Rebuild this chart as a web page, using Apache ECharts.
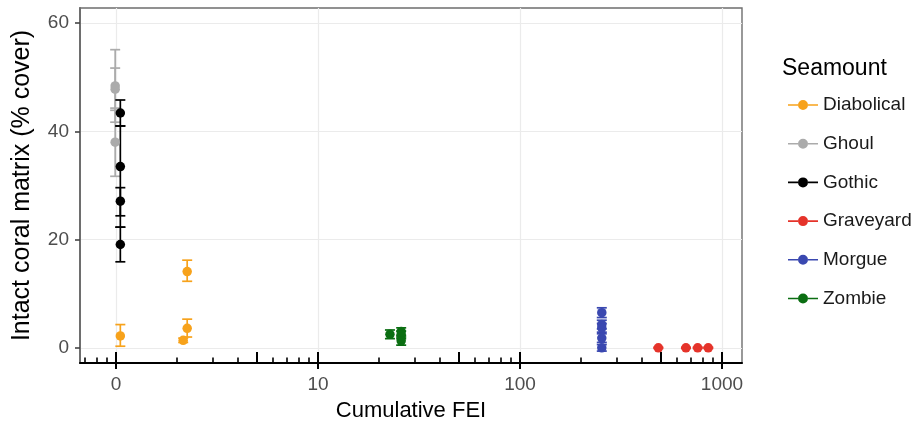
<!DOCTYPE html>
<html>
<head>
<meta charset="utf-8">
<script src="https://cdn.jsdelivr.net/npm/echarts@6/dist/echarts.min.js"></script>
<style>
  html, body { margin: 0; padding: 0; background: #fff; }
  #chart { width: 924px; height: 427px; }
</style>
</head>
<body>
<div id="chart"></div>
<script>
// ---- Data (x = position on the log axis, where axis value 1 is labelled "0") ----
const seamounts = ['Diabolical', 'Ghoul', 'Gothic', 'Graveyard', 'Morgue', 'Zombie'];

const diabolicalX  = [1.05, 2.25, 2.25, 2.15];
const diabolicalY  = [2.2, 14.1, 3.6, 1.4];
const diabolicalLo = [0.3, 12.3, 2.0, 1.0];
const diabolicalHi = [4.3, 16.2, 5.3, 1.8];

const ghoulX  = [0.99, 0.99, 0.99];
const ghoulY  = [48.4, 47.8, 38.0];
const ghoulLo = [41.7, 43.9, 31.7];
const ghoulHi = [55.1, 51.7, 44.3];

const gothicX  = [1.05, 1.05, 1.05, 1.05];
const gothicY  = [43.4, 33.5, 27.1, 19.1];
const gothicLo = [41.0, 22.3, 24.4, 15.9];
const gothicHi = [45.8, 41.0, 29.6, 22.3];

const graveyardX  = [484, 663, 758, 855];
const graveyardY  = [0.0, 0.0, 0.0, 0.0];
const graveyardLo = [-0.1, -0.1, -0.1, -0.1];
const graveyardHi = [0.1, 0.1, 0.1, 0.1];

const morgueX  = [254, 254, 254, 254, 254];
const morgueY  = [6.5, 4.3, 3.7, 1.8, 0.0];
const morgueLo = [5.6, 3.5, 2.9, 1.0, -0.6];
const morgueHi = [7.4, 5.1, 4.5, 2.6, 0.6];

const zombieX  = [22.7, 25.8, 25.8, 25.8];
const zombieY  = [2.5, 3.0, 2.4, 1.3];
const zombieLo = [1.7, 2.3, 1.7, 0.5];
const zombieHi = [3.3, 3.7, 3.1, 2.0];

const xTickLabels = [1, 10, 100, 1000];
const xMidTicks   = [1, 5, 10, 50, 100, 500, 1000];
const xMinorTicks = [0.7, 0.8, 0.9, 2, 3, 4, 6, 7, 8, 9, 20, 30, 40, 60, 70, 80, 90, 200, 300, 400, 600, 700, 800, 900];
const yTickValues = [0, 20, 40, 60];

// ---- Styles ----
const colors = {
  Diabolical: '#F7A21B',
  Ghoul: '#ABABAB',
  Gothic: '#000000',
  Graveyard: '#E5332A',
  Morgue: '#3A48B0',
  Zombie: '#0B6E12'
};
const FONT = '"Liberation Sans", Arial, sans-serif';

const groups = {
  Diabolical: [diabolicalX, diabolicalY, diabolicalLo, diabolicalHi],
  Ghoul: [ghoulX, ghoulY, ghoulLo, ghoulHi],
  Gothic: [gothicX, gothicY, gothicLo, gothicHi],
  Graveyard: [graveyardX, graveyardY, graveyardLo, graveyardHi],
  Morgue: [morgueX, morgueY, morgueLo, morgueHi],
  Zombie: [zombieX, zombieY, zombieLo, zombieHi]
};

const X_MIN = 0.663, X_MAX = 1256;
const Y_MIN = -2.8, Y_MAX = 62.8;

function errRender(color) {
  return function (params, api) {
    const x = api.value(0), lo = api.value(1), hi = api.value(2);
    const a = api.coord([x, lo]);
    const b = api.coord([x, hi]);
    const w = 5;
    const style = { stroke: color, lineWidth: 1.7 };
    return {
      type: 'group',
      children: [
        { type: 'line', shape: { x1: a[0], y1: a[1], x2: b[0], y2: b[1] }, style },
        { type: 'line', shape: { x1: a[0] - w, y1: a[1], x2: a[0] + w, y2: a[1] }, style },
        { type: 'line', shape: { x1: b[0] - w, y1: b[1], x2: b[0] + w, y2: b[1] }, style }
      ]
    };
  };
}

const series = [];
seamounts.forEach(function (name) {
  const g = groups[name];
  series.push({
    type: 'custom',
    name: name,
    xAxisIndex: 0, yAxisIndex: 0,
    itemStyle: { color: colors[name] },
    renderItem: errRender(colors[name]),
    encode: { x: 0, y: [1, 2] },
    data: g[0].map(function (x, i) { return [x, g[2][i], g[3][i]]; }),
    z: 2
  });
});
seamounts.forEach(function (name) {
  const g = groups[name];
  series.push({
    type: 'scatter',
    name: name,
    xAxisIndex: 0, yAxisIndex: 0,
    symbol: 'circle',
    symbolSize: 9.5,
    itemStyle: { color: colors[name], opacity: 1 },
    data: g[0].map(function (x, i) { return [x, g[1][i]]; }),
    z: 3
  });
});

const legendIcon = 'path://M0,4.2 H10 V5.8 H0 Z M20,4.2 H30 V5.8 H20 Z M10,5 A5,5 0 0 0 20,5 A5,5 0 0 0 10,5 Z';

function xLabel(v) {
  const l = Math.log10(v);
  if (Math.abs(l - Math.round(l)) > 1e-6) return '';
  const r = Math.round(v);
  return r === 1 ? '0' : String(r);
}

const baseLogAxis = {
  type: 'log', logBase: 10, min: X_MIN, max: X_MAX, gridIndex: 0, position: 'bottom'
};

const option = {
  animation: false,
  backgroundColor: '#ffffff',
  textStyle: { fontFamily: FONT },
  title: {
    text: 'Seamount',
    left: 777, top: 52,
    textStyle: { fontFamily: FONT, fontSize: 23, fontWeight: 'normal', color: '#000' }
  },
  legend: {
    data: seamounts,
    orient: 'vertical',
    left: 783, top: 90,
    icon: legendIcon,
    itemWidth: 30, itemHeight: 10,
    itemGap: 18.7,
    textStyle: { fontFamily: FONT, fontSize: 19, color: '#1a1a1a', lineHeight: 20 }
  },
  grid: {
    left: 80, right: 182, top: 8, bottom: 64,
    show: true, borderColor: '#6e6e6e', borderWidth: 1.4, backgroundColor: 'transparent'
  },
  xAxis: [
    Object.assign({}, baseLogAxis, {
      name: 'Cumulative FEI',
      nameLocation: 'middle',
      nameGap: 37,
      nameTextStyle: { fontFamily: FONT, fontSize: 22, color: '#000' },
      axisLine: { show: true, onZero: false, lineStyle: { color: '#000', width: 2 } },
      axisTick: { show: true, inside: false, length: 6, customValues: xTickLabels, lineStyle: { color: '#000', width: 2 } },
      axisLabel: { show: true, margin: 12, customValues: xTickLabels, formatter: xLabel, fontFamily: FONT, fontSize: 19, color: '#4D4D4D' },
      splitLine: { show: true, lineStyle: { color: '#EBEBEB', width: 1.2 } },
      minorTick: { show: false },
      minorSplitLine: { show: false }
    }),
    Object.assign({}, baseLogAxis, {
      axisLine: { show: false, onZero: false },
      axisTick: { show: true, inside: true, length: 11, customValues: xMidTicks, lineStyle: { color: '#000', width: 2 } },
      axisLabel: { show: false },
      splitLine: { show: false }
    }),
    Object.assign({}, baseLogAxis, {
      axisLine: { show: false, onZero: false },
      axisTick: { show: true, inside: true, length: 5.5, customValues: xMinorTicks, lineStyle: { color: '#000', width: 1.6 } },
      axisLabel: { show: false },
      splitLine: { show: false }
    })
  ],
  yAxis: {
    type: 'value',
    min: Y_MIN, max: Y_MAX,
    splitNumber: 3,
    name: 'Intact coral matrix (% cover)',
    nameLocation: 'middle',
    nameGap: 45,
    nameTextStyle: { fontFamily: FONT, fontSize: 25, color: '#000' },
    axisLine: { show: true, onZero: false, lineStyle: { color: '#6e6e6e', width: 2 } },
    axisTick: { show: true, length: 5, customValues: yTickValues, lineStyle: { color: '#444', width: 1.6 } },
    axisLabel: {
      margin: 11, customValues: yTickValues,
      formatter: function (v) { return Math.abs(v % 20) < 1e-6 ? String(v) : ''; },
      fontFamily: FONT, fontSize: 19, color: '#4D4D4D'
    },
    splitLine: { show: true, lineStyle: { color: '#EBEBEB', width: 1.2 } }
  },
  series: series
};

const chart = echarts.init(document.getElementById('chart'), null, { renderer: 'canvas' });
chart.setOption(option);
</script>
</body>
</html>
